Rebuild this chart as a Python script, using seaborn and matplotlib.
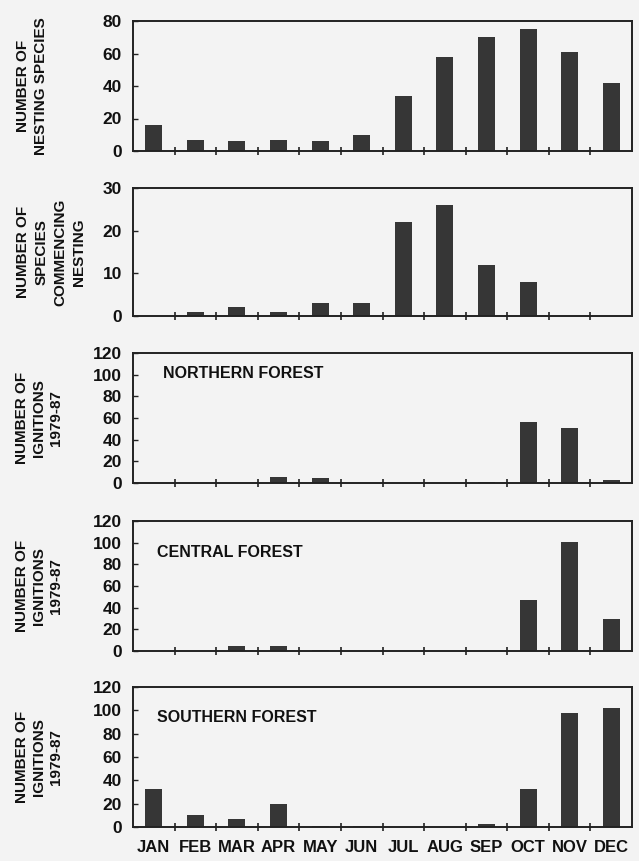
import matplotlib
matplotlib.use("Agg")
import matplotlib.pyplot as plt
import seaborn as sns
import pandas as pd
import numpy as np
from matplotlib.ticker import FixedLocator

months = ["JAN", "FEB", "MAR", "APR", "MAY", "JUN", "JUL", "AUG", "SEP", "OCT", "NOV", "DEC"]
nesting_species = [16, 7, 6, 7, 6, 10, 34, 58, 70, 75, 61, 42]
commencing_nesting = [0, 1, 2, 1, 3, 3, 22, 26, 12, 8, 0, 0]
northern_ignitions = [0, 0, 0, 6, 5, 0, 0, 0, 1, 56, 51, 3]
central_ignitions = [0, 0, 5, 5, 1, 0, 0, 0, 0, 47, 101, 30]
southern_ignitions = [33, 10, 7, 20, 1, 0.5, 0, 0, 3, 33, 98, 102]

ylabels = ["NUMBER OF\nNESTING SPECIES",
           "NUMBER OF\nSPECIES\nCOMMENCING\nNESTING",
           "NUMBER OF\nIGNITIONS\n1979-87",
           "NUMBER OF\nIGNITIONS\n1979-87",
           "NUMBER OF\nIGNITIONS\n1979-87"]
panel_titles = [None, None, "NORTHERN FOREST", "CENTRAL FOREST", "SOUTHERN FOREST"]
ymax = [80, 30, 120, 120, 120]
ystep = [20, 10, 20, 20, 20]
series = [nesting_species, commencing_nesting, northern_ignitions,
          central_ignitions, southern_ignitions]

sns.set_theme(style="white")
plt.rcParams["font.family"] = ["Liberation Sans", "DejaVu Sans"]
plt.rcParams["font.weight"] = "bold"

bg = "#f3f3f3"
fig = plt.figure(figsize=(6.39, 8.61), dpi=100, facecolor=bg)
W, H = 639, 861
# (top, bottom) in pixels
bounds = [(21, 151), (188, 316), (353, 483), (521, 651), (687, 827)]
label_x = [32, 51, 39, 39, 39]
label_ls = [1.3, 1.42, 1.3, 1.3, 1.3]
title_pos = [None, None, (0.06, 0.84), (0.048, 0.76), (0.048, 0.78)]
left, right = 133, 632

for i, (top, bot) in enumerate(bounds):
    ax = fig.add_axes([left / W, 1 - bot / H, (right - left) / W, (bot - top) / H])
    ax.set_facecolor(bg)
    df = pd.DataFrame({"month": months, "value": series[i]})
    sns.barplot(data=df, x="month", y="value", ax=ax, color="#363636",
                saturation=1, width=0.41, edgecolor="none", errorbar=None)
    ax.set_xlim(-0.5, 11.5)
    ax.set_ylim(0, ymax[i])
    ax.set_yticks(np.arange(0, ymax[i] + 1, ystep[i]))
    ax.set_ylabel("")
    ax.set_xlabel("")
    ax.xaxis.set_minor_locator(FixedLocator(np.arange(0.5, 11, 1)))
    ax.tick_params(axis="x", which="minor", direction="inout", length=6, width=1.2,
                   color="#222222", bottom=True)
    ax.tick_params(axis="x", which="major", length=0, pad=9, labelsize=12)
    ax.tick_params(axis="y", which="major", direction="in", length=3.5, width=1.0,
                   color="#222222", left=True, pad=8, labelsize=12.5)
    for lab in ax.get_yticklabels() + ax.get_xticklabels():
        lab.set_fontweight("bold")
        lab.set_color("#111111")
    if i < 4:
        ax.set_xticklabels([])
    for s in ax.spines.values():
        s.set_visible(True)
        s.set_color("#222222")
        s.set_linewidth(1.4)
    fig.text(label_x[i] / W, 1 - ((top + bot) / 2) / H, ylabels[i], rotation=90,
             ha="center", va="center", fontsize=11, fontweight="bold",
             linespacing=label_ls[i], color="#111111")
    if panel_titles[i]:
        tx, ty = title_pos[i]
        ax.text(tx, ty, panel_titles[i], transform=ax.transAxes, ha="left",
                va="center", fontsize=11.5, fontweight="bold", color="#111111")

fig.savefig("out.png", dpi=100, facecolor=bg)
